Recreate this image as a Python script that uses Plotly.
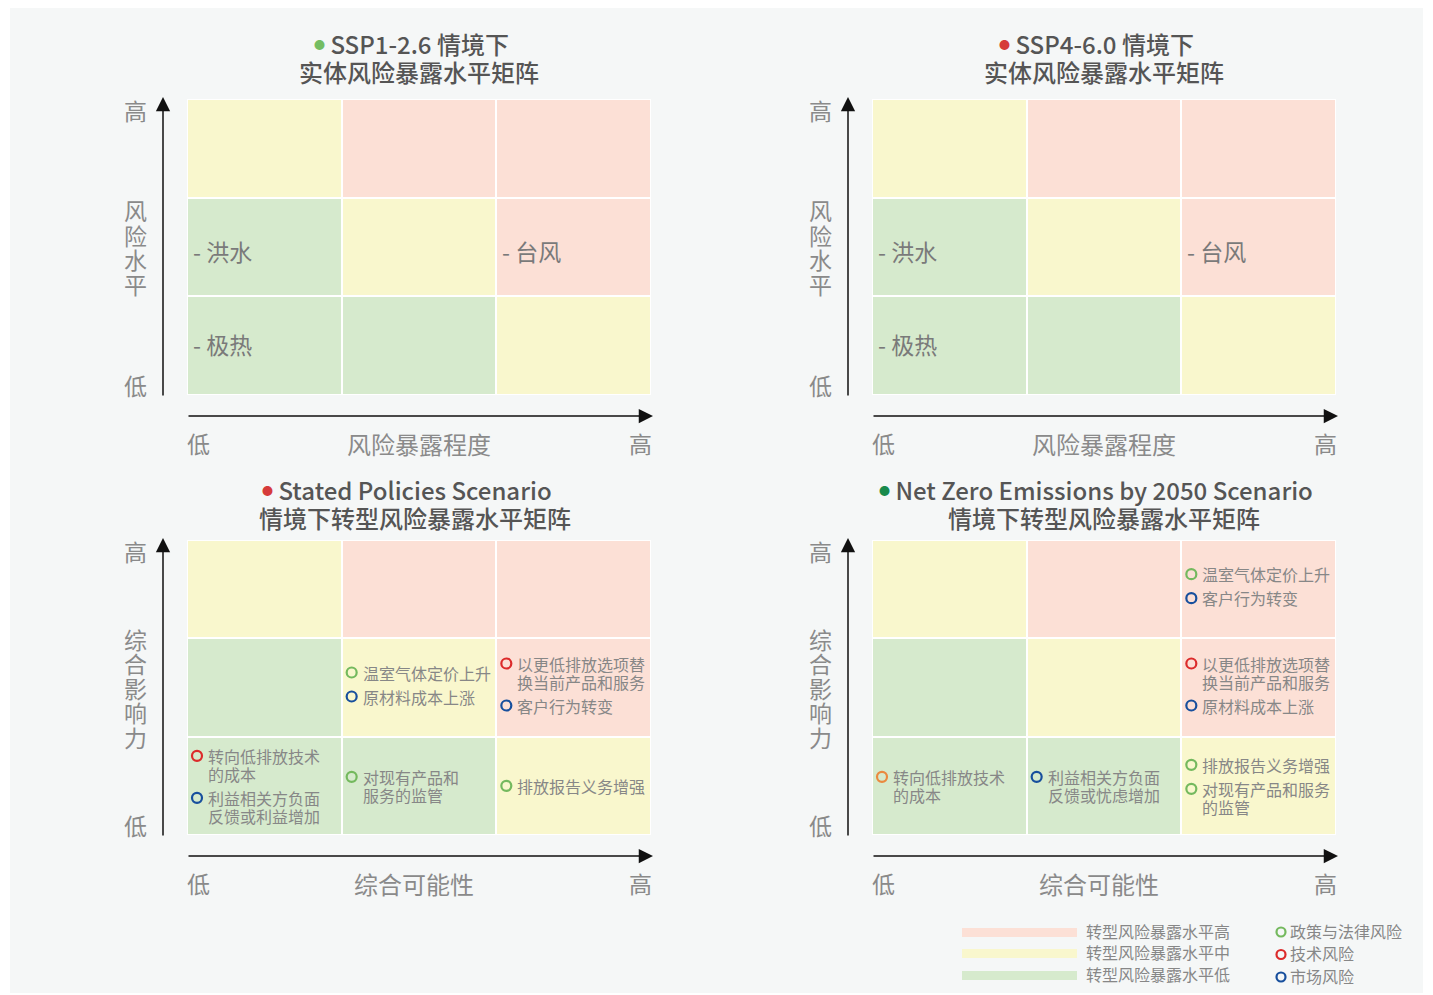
import plotly.graph_objects as go

W, H = 1433, 995
FONT = "Noto Sans CJK SC"

# ---------------- data ----------------
# exposure level of each matrix cell, rows bottom->top, columns low->high (0 low, 1 mid, 2 high)
level_row_low = [0, 0, 1]
level_row_mid = [0, 1, 2]
level_row_high = [1, 2, 2]

level_colors = ["#d6eacd", "#f9f7cd", "#fce0d6"]
level_names = ["转型风险暴露水平高", "转型风险暴露水平中", "转型风险暴露水平低"]
level_order = [2, 1, 0]

category_keys = ["policy", "tech", "market"]
category_names = ["政策与法律风险", "技术风险", "市场风险"]
category_colors = {"policy": "#74b95e", "tech": "#dc2b2b", "market": "#174f9d", "other": "#ea8a3f"}

# physical risks (col, row)
physical_labels = ["洪水", "极热", "台风"]
physical_cols = [0, 0, 2]
physical_rows = [1, 0, 1]

# Stated Policies Scenario transition risks
steps_labels = ["温室气体定价上升", "原材料成本上涨",
                "以更低排放选项替\n换当前产品和服务", "客户行为转变",
                "转向低排放技术\n的成本", "利益相关方负面\n反馈或利益增加",
                "对现有产品和\n服务的监管", "排放报告义务增强"]
steps_cats = ["policy", "market", "tech", "market", "tech", "market", "policy", "policy"]
steps_cols = [1, 1, 2, 2, 0, 0, 1, 2]
steps_rows = [1, 1, 1, 1, 0, 0, 0, 0]

# Net Zero Emissions by 2050 Scenario transition risks
nze_labels = ["温室气体定价上升", "客户行为转变",
              "以更低排放选项替\n换当前产品和服务", "原材料成本上涨",
              "转向低排放技术\n的成本", "利益相关方负面\n反馈或忧虑增加",
              "排放报告义务增强", "对现有产品和服务\n的监管"]
nze_cats = ["policy", "market", "tech", "market", "other", "market", "policy", "policy"]
nze_cols = [2, 2, 2, 2, 0, 1, 2, 2]
nze_rows = [2, 2, 1, 1, 0, 0, 0, 0]

panels = [
    dict(ax="x", ay="y", cells=(187, 651, 99, 395), dom=(100, 690, 20, 470), dot="#74bd62",
         t1="SSP1-2.6 情境下", t2="实体风险暴露水平矩阵", ylab="风险水平", xlab="风险暴露程度",
         toff=(55, 27), tdx=0, xlab_dx=0, kind="physical"),
    dict(ax="x2", ay="y2", cells=(872, 1336, 99, 395), dom=(785, 1380, 20, 470), dot="#d63b3b",
         t1="SSP4-6.0 情境下", t2="实体风险暴露水平矩阵", ylab="风险水平", xlab="风险暴露程度",
         toff=(55, 27), tdx=0, xlab_dx=0, kind="physical"),
    dict(ax="x3", ay="y3", cells=(187, 651, 540, 835), dom=(100, 690, 470, 905), dot="#d63b3b",
         t1="Stated Policies Scenario", t2="情境下转型风险暴露水平矩阵", ylab="综合影响力", xlab="综合可能性",
         toff=(51, 23), tdx=-4, xlab_dx=-5, kind="steps"),
    dict(ax="x4", ay="y4", cells=(872, 1336, 540, 835), dom=(785, 1380, 470, 905), dot="#198a4c",
         t1="Net Zero Emissions by 2050 Scenario", t2="情境下转型风险暴露水平矩阵", ylab="综合影响力", xlab="综合可能性",
         toff=(51, 23), tdx=0, xlab_dx=-5, kind="nze"),
]

AX_COL = "#8a8a8a"
TXT_COL = "#878787"
TITLE_COL = "#555555"

fig = go.Figure()
shapes = []
annotations = []
layout_axes = {}

# grey panel background
shapes.append(dict(type="rect", xref="paper", yref="paper", x0=10 / W, x1=1423 / W,
                   y0=1 - 993 / H, y1=1 - 8 / H, fillcolor="#f5f7f7", line=dict(width=0), layer="below"))


def ann(p, x, y, text, size, color, xanchor="center", yanchor="middle", weight=None):
    f = dict(family=FONT, size=size, color=color)
    if weight:
        f["weight"] = weight
    annotations.append(dict(xref=p["ax"], yref=p["ay"], x=x, y=y, text=text, showarrow=False,
                            xanchor=xanchor, yanchor=yanchor, font=f))


def arrow(p, x, y, ax_, ay_):
    annotations.append(dict(xref=p["ax"], yref=p["ay"], axref=p["ax"], ayref=p["ay"],
                            x=x, y=y, ax=ax_, ay=ay_, text="", showarrow=True,
                            arrowhead=2, arrowsize=1.9, arrowwidth=1.5, arrowcolor="#111111", standoff=0))


LINE_STEP = 18
ITEM_GAP = 24

for i, p in enumerate(panels):
    cx0, cx1, cy0, cy1 = p["cells"]
    dx0, dx1, dy0, dy1 = p["dom"]
    ux = (cx1 - cx0) / 3
    uy = (cy1 - cy0) / 3
    n = "" if i == 0 else str(i + 1)
    layout_axes["xaxis" + n] = dict(domain=[dx0 / W, dx1 / W], range=[(dx0 - cx0) / ux, (dx1 - cx0) / ux],
                                    visible=False, fixedrange=True, anchor=p["ay"])
    layout_axes["yaxis" + n] = dict(domain=[1 - dy1 / H, 1 - dy0 / H], range=[(cy1 - dy1) / uy, (cy1 - dy0) / uy],
                                    visible=False, fixedrange=True, anchor=p["ax"])

    # white backing behind the cells (visible through the gaps)
    shapes.append(dict(type="rect", xref=p["ax"], yref=p["ay"], x0=0, x1=3, y0=0, y1=3,
                       fillcolor="#ffffff", line=dict(width=0), layer="below"))

    fig.add_trace(go.Heatmap(z=[level_row_low, level_row_mid, level_row_high],
                             x=[0.5, 1.5, 2.5], y=[0.5, 1.5, 2.5],
                             colorscale=[[0, level_colors[0]], [0.5, level_colors[1]], [1, level_colors[2]]],
                             zmin=0, zmax=2, showscale=False, xgap=2, ygap=2, hoverinfo="skip",
                             xaxis=p["ax"], yaxis=p["ay"]))

    # titles
    dot = f"<span style='color:{p['dot']};font-size:11px;baseline-shift:5px'>●</span>"
    ann(p, 1.5 + (p["tdx"] - 8) / ux, 3 + p["toff"][0] / uy, f"{dot} {p['t1']}", 24, TITLE_COL, weight=500)
    ann(p, 1.5 + p["tdx"] / ux, 3 + p["toff"][1] / uy, p["t2"], 24, TITLE_COL, weight=500)

    # axes arrows
    arrow(p, -24 / ux, 3 + 2 / uy, -24 / ux, -2 / uy)
    arrow(p, 3 + 2 / ux, -21 / uy, 0, -21 / uy)

    # axis labels
    ann(p, -52 / ux, 3 - 11 / uy, "高", 23, AX_COL)
    ann(p, -52 / ux, 10 / uy, "低", 23, AX_COL)
    nch = len(p["ylab"])
    for k, ch in enumerate(p["ylab"]):
        ann(p, -52 / ux, 1.5 - (k - (nch - 1) / 2) * 24.5 / uy, ch, 23, AX_COL)
    ann(p, 11 / ux, -48 / uy, "低", 23, AX_COL)
    ann(p, 3 - 11 / ux, -48 / uy, "高", 23, AX_COL)
    ann(p, 1.5 + p["xlab_dx"] / ux, -48 / uy, p["xlab"], 24, AX_COL)

    if p["kind"] == "physical":
        for lab, c, r in zip(physical_labels, physical_cols, physical_rows):
            yoff = 0.46 if r == 1 else 0.52
            ann(p, c + 4 / ux, r + yoff, "- " + lab, 23, "#7a7a7a", xanchor="left")
        continue

    if p["kind"] == "steps":
        labels, cats, cols, rows = steps_labels, steps_cats, steps_cols, steps_rows
    else:
        labels, cats, cols, rows = nze_labels, nze_cats, nze_cols, nze_rows

    groups = {}
    for lab, cat, c, r in zip(labels, cats, cols, rows):
        groups.setdefault((c, r), []).append((lab, cat))

    mx, my, mc = [], [], []
    for (c, r), items in groups.items():
        placed = []  # (offset_px, text, is_first, cat)
        y = 0
        for j, (lab, cat) in enumerate(items):
            if j > 0:
                y += ITEM_GAP
            for k, line in enumerate(lab.split("\n")):
                if k > 0:
                    y += LINE_STEP
                placed.append((y, line, k == 0, cat))
        center = (placed[0][0] + placed[-1][0]) / 2 + (3 if r > 0 else 0)
        for off, line, first, cat in placed:
            yy = r + 0.5 - (off - center) / uy
            ann(p, c + 19 / ux, yy, line, 16, TXT_COL, xanchor="left")
            if first:
                mx.append(c + 10 / ux)
                my.append(yy)
                mc.append(category_colors[cat])
    fig.add_trace(go.Scatter(x=mx, y=my, mode="markers", hoverinfo="skip", showlegend=False,
                             marker=dict(symbol="circle-open", size=10, color=mc, line=dict(width=2.2)),
                             xaxis=p["ax"], yaxis=p["ay"]))

# ---------------- legend (drawn in paper space) ----------------
leg_rows_y = [932.5, 953.5, 975.5]
for k, li in enumerate(level_order):
    yc = leg_rows_y[k]
    shapes.append(dict(type="rect", xref="paper", yref="paper", x0=962 / W, x1=1077 / W,
                       y0=1 - (yc + 4.5) / H, y1=1 - (yc - 4.5) / H,
                       fillcolor=level_colors[li], line=dict(width=0)))
    annotations.append(dict(xref="paper", yref="paper", x=1084 / W, y=1 - (yc - 1.5) / H, text=level_names[k],
                            showarrow=False, xanchor="left", yanchor="middle",
                            font=dict(family=FONT, size=16, color=TXT_COL)))
cat_rows_y = [932, 954.5, 977]
for k, key in enumerate(category_keys):
    yc = cat_rows_y[k]
    shapes.append(dict(type="circle", xref="paper", yref="paper", x0=(1281 - 4.5) / W, x1=(1281 + 4.5) / W,
                       y0=1 - (yc + 4.5) / H, y1=1 - (yc - 4.5) / H,
                       line=dict(color=category_colors[key], width=2.2), fillcolor="rgba(0,0,0,0)"))
    annotations.append(dict(xref="paper", yref="paper", x=1288 / W, y=1 - (yc - 1.5) / H, text=category_names[k],
                            showarrow=False, xanchor="left", yanchor="middle",
                            font=dict(family=FONT, size=16, color=TXT_COL)))

fig.update_layout(width=W, height=H, margin=dict(l=0, r=0, t=0, b=0),
                  paper_bgcolor="#ffffff", plot_bgcolor="rgba(0,0,0,0)",
                  showlegend=False, shapes=shapes, annotations=annotations,
                  font=dict(family=FONT), **layout_axes)

fig.write_html("out.html", config={"displayModeBar": False},
               post_script="document.body.style.margin='0';document.body.style.overflow='hidden';")
